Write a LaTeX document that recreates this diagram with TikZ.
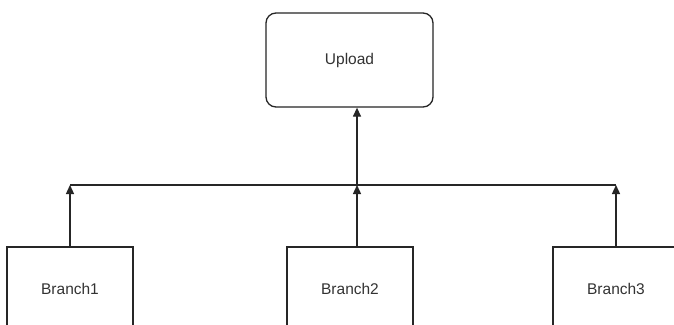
\documentclass[tikz,border=0pt]{standalone}
\usepackage{fontspec}
\setmainfont{Liberation Sans}
\usetikzlibrary{arrows.meta}
\begin{document}
\begin{tikzpicture}[x=1pt,y=-1pt,
  box/.style={draw=black!85, line width=1.3pt, fill=white, minimum width=126pt, minimum height=84pt, inner sep=0pt, text=black!80, font=\fontsize{15.5}{18}\selectfont},
  rbox/.style={box, rounded corners=10pt, minimum width=167pt, minimum height=94pt},
  conn/.style={draw=black!85, line width=1.3pt},
  arr/.style={conn, -{Triangle[length=9pt,width=8pt]}}]
\clip (0,0) rectangle (674,324);
\fill[white] (0,0) rectangle (674,324);
\node[rbox] (up) at (349.5,60) {Upload};
\node[box] (b1) at (70,289) {Branch1};
\node[box] (b2) at (350,289) {Branch2};
\node[box] (b3) at (616,289) {Branch3};
\coordinate (j1) at (70,185);
\coordinate (j2) at (357,185);
\coordinate (j3) at (616,185);
\draw[conn] (j1) -- (j3);
\draw[arr] (b1.north) -- (j1);
\draw[arr] (b2.north -| j2) -- (j2);
\draw[arr] (b3.north) -- (j3);
\draw[arr] (j2) -- (up.south -| j2);
\end{tikzpicture}
\end{document}
